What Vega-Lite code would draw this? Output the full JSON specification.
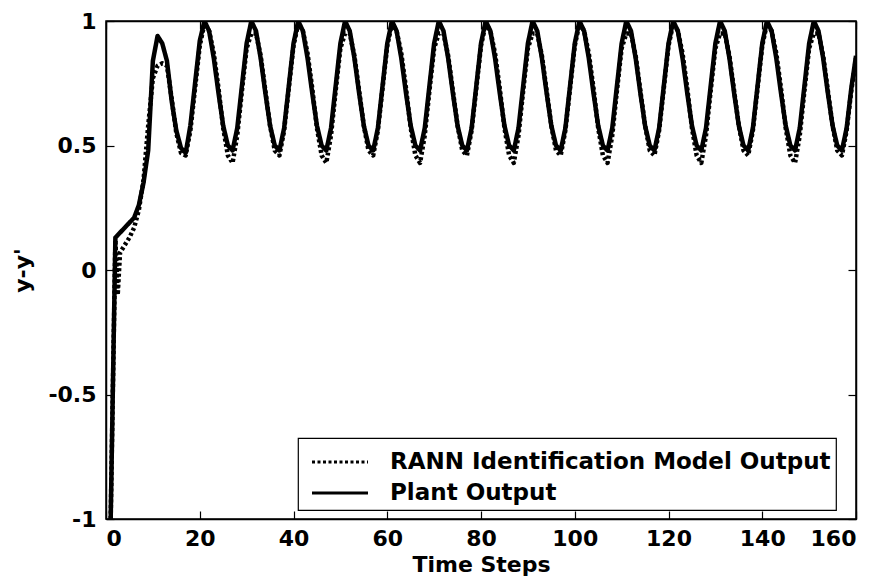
{
  "$schema": "https://vega.github.io/schema/vega-lite/v6.json",
  "width": 750,
  "height": 498,
  "autosize": {"type": "none"},
  "padding": {"left": 106, "top": 21, "right": 26, "bottom": 59},
  "background": "white",
  "config": {
    "view": {"stroke": "black", "strokeWidth": 1.5},
    "font": "DejaVu Sans",
    "axis": {
      "grid": false,
      "domainColor": "black",
      "domainWidth": 1.5,
      "tickColor": "black",
      "tickWidth": 1.2,
      "tickSize": -8,
      "labelFont": "DejaVu Sans",
      "labelFontWeight": "bold",
      "labelFontSize": 22,
      "labelColor": "black",
      "titleFont": "DejaVu Sans",
      "titleFontWeight": "bold",
      "titleFontSize": 22,
      "titleColor": "black"
    },
    "legend": {
      "strokeColor": "black",
      "strokeWidth": 1.2,
      "fillColor": "white",
      "padding": 5,
      "symbolType": "M-1.6,0L1.6,0",
      "symbolSize": 1225,
      "symbolStrokeWidth": 3,
      "symbolStrokeColor": "black",
      "symbolFillColor": "transparent",
      "symbolOffset": 18,
      "labelFont": "DejaVu Sans",
      "labelFontWeight": "bold",
      "labelFontSize": 23,
      "labelColor": "black",
      "labelOffset": 31,
      "rowPadding": 0,
      "labelLimit": 600
    }
  },
  "data": {
    "values": [
      {"t":1,"y":-1,"s":"P"},{"t":2,"y":0.13,"s":"P"},{"t":3,"y":0.15,"s":"P"},{"t":4,"y":0.17,"s":"P"},{"t":5,"y":0.19,"s":"P"},{"t":6,"y":0.21,"s":"P"},{"t":7,"y":0.26,"s":"P"},{"t":8,"y":0.35,"s":"P"},{"t":9,"y":0.48,"s":"P"},{"t":10,"y":0.84,"s":"P"},
      {"t":11,"y":0.94,"s":"P"},{"t":12,"y":0.91,"s":"P"},{"t":13,"y":0.84,"s":"P"},{"t":14,"y":0.68,"s":"P"},{"t":15,"y":0.56,"s":"P"},{"t":16,"y":0.49,"s":"P"},{"t":17,"y":0.47,"s":"P"},{"t":18,"y":0.58,"s":"P"},{"t":19,"y":0.75,"s":"P"},{"t":20,"y":0.92,"s":"P"},
      {"t":21,"y":1.0,"s":"P"},{"t":22,"y":0.96,"s":"P"},{"t":23,"y":0.85,"s":"P"},{"t":24,"y":0.71,"s":"P"},{"t":25,"y":0.58,"s":"P"},{"t":26,"y":0.5,"s":"P"},{"t":27,"y":0.48,"s":"P"},{"t":28,"y":0.57,"s":"P"},{"t":29,"y":0.74,"s":"P"},{"t":30,"y":0.91,"s":"P"},
      {"t":31,"y":1.0,"s":"P"},{"t":32,"y":0.96,"s":"P"},{"t":33,"y":0.85,"s":"P"},{"t":34,"y":0.71,"s":"P"},{"t":35,"y":0.58,"s":"P"},{"t":36,"y":0.5,"s":"P"},{"t":37,"y":0.48,"s":"P"},{"t":38,"y":0.57,"s":"P"},{"t":39,"y":0.74,"s":"P"},{"t":40,"y":0.91,"s":"P"},
      {"t":41,"y":1.0,"s":"P"},{"t":42,"y":0.96,"s":"P"},{"t":43,"y":0.85,"s":"P"},{"t":44,"y":0.71,"s":"P"},{"t":45,"y":0.58,"s":"P"},{"t":46,"y":0.5,"s":"P"},{"t":47,"y":0.48,"s":"P"},{"t":48,"y":0.57,"s":"P"},{"t":49,"y":0.74,"s":"P"},{"t":50,"y":0.91,"s":"P"},
      {"t":51,"y":1.0,"s":"P"},{"t":52,"y":0.96,"s":"P"},{"t":53,"y":0.85,"s":"P"},{"t":54,"y":0.71,"s":"P"},{"t":55,"y":0.58,"s":"P"},{"t":56,"y":0.5,"s":"P"},{"t":57,"y":0.48,"s":"P"},{"t":58,"y":0.57,"s":"P"},{"t":59,"y":0.74,"s":"P"},{"t":60,"y":0.91,"s":"P"},
      {"t":61,"y":1.0,"s":"P"},{"t":62,"y":0.96,"s":"P"},{"t":63,"y":0.85,"s":"P"},{"t":64,"y":0.71,"s":"P"},{"t":65,"y":0.58,"s":"P"},{"t":66,"y":0.5,"s":"P"},{"t":67,"y":0.48,"s":"P"},{"t":68,"y":0.57,"s":"P"},{"t":69,"y":0.74,"s":"P"},{"t":70,"y":0.91,"s":"P"},
      {"t":71,"y":1.0,"s":"P"},{"t":72,"y":0.96,"s":"P"},{"t":73,"y":0.85,"s":"P"},{"t":74,"y":0.71,"s":"P"},{"t":75,"y":0.58,"s":"P"},{"t":76,"y":0.5,"s":"P"},{"t":77,"y":0.48,"s":"P"},{"t":78,"y":0.57,"s":"P"},{"t":79,"y":0.74,"s":"P"},{"t":80,"y":0.91,"s":"P"},
      {"t":81,"y":1.0,"s":"P"},{"t":82,"y":0.96,"s":"P"},{"t":83,"y":0.85,"s":"P"},{"t":84,"y":0.71,"s":"P"},{"t":85,"y":0.58,"s":"P"},{"t":86,"y":0.5,"s":"P"},{"t":87,"y":0.48,"s":"P"},{"t":88,"y":0.57,"s":"P"},{"t":89,"y":0.74,"s":"P"},{"t":90,"y":0.91,"s":"P"},
      {"t":91,"y":1.0,"s":"P"},{"t":92,"y":0.96,"s":"P"},{"t":93,"y":0.85,"s":"P"},{"t":94,"y":0.71,"s":"P"},{"t":95,"y":0.58,"s":"P"},{"t":96,"y":0.5,"s":"P"},{"t":97,"y":0.48,"s":"P"},{"t":98,"y":0.57,"s":"P"},{"t":99,"y":0.74,"s":"P"},{"t":100,"y":0.91,"s":"P"},
      {"t":101,"y":1.0,"s":"P"},{"t":102,"y":0.96,"s":"P"},{"t":103,"y":0.85,"s":"P"},{"t":104,"y":0.71,"s":"P"},{"t":105,"y":0.58,"s":"P"},{"t":106,"y":0.5,"s":"P"},{"t":107,"y":0.48,"s":"P"},{"t":108,"y":0.57,"s":"P"},{"t":109,"y":0.74,"s":"P"},{"t":110,"y":0.91,"s":"P"},
      {"t":111,"y":1.0,"s":"P"},{"t":112,"y":0.96,"s":"P"},{"t":113,"y":0.85,"s":"P"},{"t":114,"y":0.71,"s":"P"},{"t":115,"y":0.58,"s":"P"},{"t":116,"y":0.5,"s":"P"},{"t":117,"y":0.48,"s":"P"},{"t":118,"y":0.57,"s":"P"},{"t":119,"y":0.74,"s":"P"},{"t":120,"y":0.91,"s":"P"},
      {"t":121,"y":1.0,"s":"P"},{"t":122,"y":0.96,"s":"P"},{"t":123,"y":0.85,"s":"P"},{"t":124,"y":0.71,"s":"P"},{"t":125,"y":0.58,"s":"P"},{"t":126,"y":0.5,"s":"P"},{"t":127,"y":0.48,"s":"P"},{"t":128,"y":0.57,"s":"P"},{"t":129,"y":0.74,"s":"P"},{"t":130,"y":0.91,"s":"P"},
      {"t":131,"y":1.0,"s":"P"},{"t":132,"y":0.96,"s":"P"},{"t":133,"y":0.85,"s":"P"},{"t":134,"y":0.71,"s":"P"},{"t":135,"y":0.58,"s":"P"},{"t":136,"y":0.5,"s":"P"},{"t":137,"y":0.48,"s":"P"},{"t":138,"y":0.57,"s":"P"},{"t":139,"y":0.74,"s":"P"},{"t":140,"y":0.91,"s":"P"},
      {"t":141,"y":1.0,"s":"P"},{"t":142,"y":0.96,"s":"P"},{"t":143,"y":0.85,"s":"P"},{"t":144,"y":0.71,"s":"P"},{"t":145,"y":0.58,"s":"P"},{"t":146,"y":0.5,"s":"P"},{"t":147,"y":0.48,"s":"P"},{"t":148,"y":0.57,"s":"P"},{"t":149,"y":0.74,"s":"P"},{"t":150,"y":0.91,"s":"P"},
      {"t":151,"y":1.0,"s":"P"},{"t":152,"y":0.96,"s":"P"},{"t":153,"y":0.85,"s":"P"},{"t":154,"y":0.71,"s":"P"},{"t":155,"y":0.58,"s":"P"},{"t":156,"y":0.5,"s":"P"},{"t":157,"y":0.48,"s":"P"},{"t":158,"y":0.57,"s":"P"},{"t":159,"y":0.73,"s":"P"},{"t":160,"y":0.86,"s":"P"},

      {"t":1,"y":-1,"s":"R"},{"t":2,"y":0.12,"s":"R"},{"t":2.5,"y":-0.1,"s":"R"},{"t":3,"y":0.07,"s":"R"},{"t":4,"y":0.1,"s":"R"},{"t":5,"y":0.13,"s":"R"},{"t":6,"y":0.17,"s":"R"},{"t":7,"y":0.24,"s":"R"},{"t":8,"y":0.36,"s":"R"},{"t":9,"y":0.58,"s":"R"},{"t":10,"y":0.77,"s":"R"},
      {"t":11,"y":0.82,"s":"R"},{"t":12,"y":0.83,"s":"R"},{"t":13,"y":0.82,"s":"R"},{"t":14,"y":0.69,"s":"R"},{"t":15,"y":0.55,"s":"R"},{"t":16,"y":0.47,"s":"R"},{"t":17,"y":0.46,"s":"R"},{"t":18,"y":0.56,"s":"R"},{"t":19,"y":0.73,"s":"R"},{"t":20,"y":0.9,"s":"R"},
      {"t":21,"y":0.99,"s":"R"},{"t":22,"y":0.96,"s":"R"},{"t":23,"y":0.87,"s":"R"},{"t":24,"y":0.73,"s":"R"},{"t":25,"y":0.57,"s":"R"},{"t":26,"y":0.46,"s":"R"},{"t":27,"y":0.43,"s":"R"},{"t":28,"y":0.54,"s":"R"},{"t":29,"y":0.72,"s":"R"},{"t":30,"y":0.89,"s":"R"},
      {"t":31,"y":0.95,"s":"R"},{"t":32,"y":0.95,"s":"R"},{"t":33,"y":0.86,"s":"R"},{"t":34,"y":0.72,"s":"R"},{"t":35,"y":0.58,"s":"R"},{"t":36,"y":0.48,"s":"R"},{"t":37,"y":0.46,"s":"R"},{"t":38,"y":0.56,"s":"R"},{"t":39,"y":0.73,"s":"R"},{"t":40,"y":0.9,"s":"R"},
      {"t":41,"y":0.99,"s":"R"},{"t":42,"y":0.96,"s":"R"},{"t":43,"y":0.87,"s":"R"},{"t":44,"y":0.73,"s":"R"},{"t":45,"y":0.57,"s":"R"},{"t":46,"y":0.46,"s":"R"},{"t":47,"y":0.43,"s":"R"},{"t":48,"y":0.54,"s":"R"},{"t":49,"y":0.72,"s":"R"},{"t":50,"y":0.89,"s":"R"},
      {"t":51,"y":0.95,"s":"R"},{"t":52,"y":0.95,"s":"R"},{"t":53,"y":0.86,"s":"R"},{"t":54,"y":0.72,"s":"R"},{"t":55,"y":0.58,"s":"R"},{"t":56,"y":0.48,"s":"R"},{"t":57,"y":0.46,"s":"R"},{"t":58,"y":0.56,"s":"R"},{"t":59,"y":0.73,"s":"R"},{"t":60,"y":0.9,"s":"R"},
      {"t":61,"y":0.99,"s":"R"},{"t":62,"y":0.96,"s":"R"},{"t":63,"y":0.87,"s":"R"},{"t":64,"y":0.73,"s":"R"},{"t":65,"y":0.57,"s":"R"},{"t":66,"y":0.46,"s":"R"},{"t":67,"y":0.43,"s":"R"},{"t":68,"y":0.54,"s":"R"},{"t":69,"y":0.72,"s":"R"},{"t":70,"y":0.89,"s":"R"},
      {"t":71,"y":0.95,"s":"R"},{"t":72,"y":0.95,"s":"R"},{"t":73,"y":0.86,"s":"R"},{"t":74,"y":0.72,"s":"R"},{"t":75,"y":0.58,"s":"R"},{"t":76,"y":0.48,"s":"R"},{"t":77,"y":0.46,"s":"R"},{"t":78,"y":0.56,"s":"R"},{"t":79,"y":0.73,"s":"R"},{"t":80,"y":0.9,"s":"R"},
      {"t":81,"y":0.99,"s":"R"},{"t":82,"y":0.96,"s":"R"},{"t":83,"y":0.87,"s":"R"},{"t":84,"y":0.73,"s":"R"},{"t":85,"y":0.57,"s":"R"},{"t":86,"y":0.46,"s":"R"},{"t":87,"y":0.43,"s":"R"},{"t":88,"y":0.54,"s":"R"},{"t":89,"y":0.72,"s":"R"},{"t":90,"y":0.89,"s":"R"},
      {"t":91,"y":0.95,"s":"R"},{"t":92,"y":0.95,"s":"R"},{"t":93,"y":0.86,"s":"R"},{"t":94,"y":0.72,"s":"R"},{"t":95,"y":0.58,"s":"R"},{"t":96,"y":0.48,"s":"R"},{"t":97,"y":0.46,"s":"R"},{"t":98,"y":0.56,"s":"R"},{"t":99,"y":0.73,"s":"R"},{"t":100,"y":0.9,"s":"R"},
      {"t":101,"y":0.99,"s":"R"},{"t":102,"y":0.96,"s":"R"},{"t":103,"y":0.87,"s":"R"},{"t":104,"y":0.73,"s":"R"},{"t":105,"y":0.57,"s":"R"},{"t":106,"y":0.46,"s":"R"},{"t":107,"y":0.43,"s":"R"},{"t":108,"y":0.54,"s":"R"},{"t":109,"y":0.72,"s":"R"},{"t":110,"y":0.89,"s":"R"},
      {"t":111,"y":0.95,"s":"R"},{"t":112,"y":0.95,"s":"R"},{"t":113,"y":0.86,"s":"R"},{"t":114,"y":0.72,"s":"R"},{"t":115,"y":0.58,"s":"R"},{"t":116,"y":0.48,"s":"R"},{"t":117,"y":0.46,"s":"R"},{"t":118,"y":0.56,"s":"R"},{"t":119,"y":0.73,"s":"R"},{"t":120,"y":0.9,"s":"R"},
      {"t":121,"y":0.99,"s":"R"},{"t":122,"y":0.96,"s":"R"},{"t":123,"y":0.87,"s":"R"},{"t":124,"y":0.73,"s":"R"},{"t":125,"y":0.57,"s":"R"},{"t":126,"y":0.46,"s":"R"},{"t":127,"y":0.43,"s":"R"},{"t":128,"y":0.54,"s":"R"},{"t":129,"y":0.72,"s":"R"},{"t":130,"y":0.89,"s":"R"},
      {"t":131,"y":0.95,"s":"R"},{"t":132,"y":0.95,"s":"R"},{"t":133,"y":0.86,"s":"R"},{"t":134,"y":0.72,"s":"R"},{"t":135,"y":0.58,"s":"R"},{"t":136,"y":0.48,"s":"R"},{"t":137,"y":0.46,"s":"R"},{"t":138,"y":0.56,"s":"R"},{"t":139,"y":0.73,"s":"R"},{"t":140,"y":0.9,"s":"R"},
      {"t":141,"y":0.99,"s":"R"},{"t":142,"y":0.96,"s":"R"},{"t":143,"y":0.87,"s":"R"},{"t":144,"y":0.73,"s":"R"},{"t":145,"y":0.57,"s":"R"},{"t":146,"y":0.46,"s":"R"},{"t":147,"y":0.43,"s":"R"},{"t":148,"y":0.54,"s":"R"},{"t":149,"y":0.72,"s":"R"},{"t":150,"y":0.89,"s":"R"},
      {"t":151,"y":0.95,"s":"R"},{"t":152,"y":0.95,"s":"R"},{"t":153,"y":0.86,"s":"R"},{"t":154,"y":0.72,"s":"R"},{"t":155,"y":0.58,"s":"R"},{"t":156,"y":0.48,"s":"R"},{"t":157,"y":0.46,"s":"R"},{"t":158,"y":0.56,"s":"R"},{"t":159,"y":0.72,"s":"R"},{"t":160,"y":0.85,"s":"R"}
    ]
  },
  "encoding": {
    "x": {"field": "t", "type": "quantitative", "scale": {"domain": [0, 160], "nice": false, "zero": false}},
    "y": {"field": "y", "type": "quantitative", "scale": {"domain": [-1, 1], "nice": false, "zero": false}},
    "strokeDash": {
      "field": "s", "type": "nominal",
      "scale": {"domain": ["R", "P"], "range": [[3, 2.5], [1, 0]]},
      "legend": {
        "title": null,
        "orient": "none",
        "legendX": 192,
        "legendY": 417,
        "labelExpr": "datum.value == 'R' ? 'RANN Identification Model Output' : 'Plant Output'"
      }
    },
    "detail": {"field": "s"}
  },
  "layer": [
    {
      "transform": [{"filter": "datum.s == 'R'"}],
      "mark": {"type": "line", "color": "black", "strokeWidth": 4.5, "clip": true, "strokeCap": "butt", "strokeJoin": "round"},
      "encoding": {
        "x": {"field": "t", "type": "quantitative", "axis": {"orient": "bottom", "values": [0,20,40,60,80,100,120,140,160], "title": "Time Steps", "labelPadding": 17, "titlePadding": 5}},
        "y": {"field": "y", "type": "quantitative", "axis": {"orient": "left", "values": [-1,-0.5,0,0.5,1], "title": "y-y'", "labelPadding": 18, "titlePadding": 13, "labelExpr": "'' + datum.value"}}
      }
    },
    {
      "transform": [{"filter": "datum.s == 'P'"}],
      "mark": {"type": "line", "color": "black", "strokeWidth": 4.5, "clip": true, "strokeJoin": "round"},
      "encoding": {
        "x": {"field": "t", "type": "quantitative", "axis": {"orient": "top", "values": [0,20,40,60,80,100,120,140,160], "title": null, "labels": false}},
        "y": {"field": "y", "type": "quantitative", "axis": {"orient": "right", "values": [-1,-0.5,0,0.5,1], "title": null, "labels": false}}
      }
    }
  ],
  "resolve": {"axis": {"x": "independent", "y": "independent"}}
}
